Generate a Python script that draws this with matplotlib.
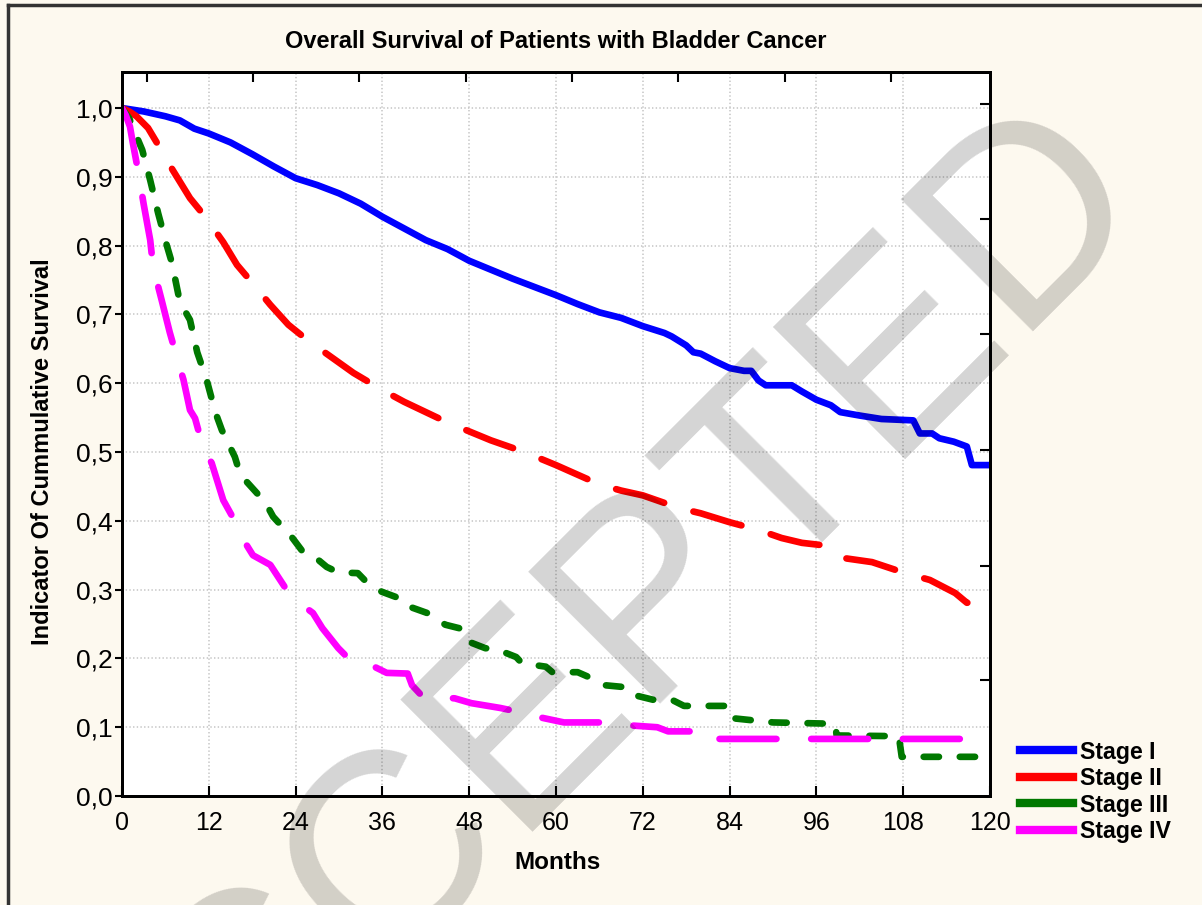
import matplotlib
matplotlib.use('Agg')
import matplotlib.pyplot as plt
from matplotlib.lines import Line2D
from matplotlib.ticker import FuncFormatter

plt.rcParams['font.family'] = ['Liberation Sans', 'DejaVu Sans']
plt.rcParams['lines.scale_dashes'] = False

# Stage I
m1 = [0, 3, 6, 8, 10, 12, 15, 18, 21, 24, 27, 30, 33, 36, 39, 42, 45, 48, 51, 54, 57, 60,
      63, 66, 69, 72, 75, 76, 78, 79, 80, 82, 84, 86, 87, 88, 89, 92.6, 94, 96, 98, 99.3,
      102, 105, 109.4, 110.3, 112, 113, 115, 116.8, 117.5, 120]
s1 = [1.0, 0.995, 0.988, 0.982, 0.97, 0.963, 0.95, 0.933, 0.915, 0.898, 0.888, 0.876, 0.861,
      0.842, 0.825, 0.808, 0.795, 0.778, 0.765, 0.752, 0.74, 0.728, 0.715, 0.703, 0.695, 0.683,
      0.673, 0.668, 0.655, 0.645, 0.643, 0.632, 0.622, 0.618, 0.618, 0.604, 0.597, 0.597, 0.588,
      0.576, 0.568, 0.558, 0.553, 0.548, 0.546, 0.527, 0.527, 0.52, 0.515, 0.508, 0.481, 0.481]

# Stage II
m2 = [0, 1, 2, 3.6, 5.25, 7, 9.4, 11.5, 14, 15.9, 18, 20.5, 23, 25.6, 28, 30, 32, 36, 39, 42,
      45, 48, 51, 54, 57, 60, 63, 66, 69, 72, 75, 78, 80, 84, 87.9, 91.2, 94, 96.5, 99.7,
      103.7, 108, 111.7, 115.2, 116.8, 120]
s2 = [1.0, 0.995, 0.988, 0.971, 0.942, 0.91, 0.869, 0.842, 0.805, 0.772, 0.746, 0.714, 0.685,
      0.663, 0.645, 0.63, 0.615, 0.59, 0.573, 0.558, 0.543, 0.53, 0.517, 0.506, 0.494, 0.481,
      0.467, 0.453, 0.444, 0.437, 0.426, 0.416, 0.411, 0.398, 0.387, 0.375, 0.368, 0.365, 0.346,
      0.34, 0.325, 0.314, 0.295, 0.281, 0.278]

# Stage III
m3 = [0, 1, 1.8, 2.8, 3.9, 5, 6.2, 6.9, 8, 9.4, 10.4, 11.7, 12.9, 13.8, 15.6, 16.3, 17.3, 19.8,
      20.9, 23.5, 25, 26.7, 28.3, 29.9, 32.6, 33.9, 35.9, 38.2, 39, 42.2, 44.7, 46.6, 47.5, 48,
      50.2, 52.1, 54.5, 55.3, 58.6, 59.5, 63, 65.4, 66.8, 69.8, 70.7, 73.4, 76, 77.7, 84, 84.5,
      90, 98.6, 98.8, 107.4, 107.8, 120]
s3 = [1.0, 0.985, 0.964, 0.939, 0.895, 0.847, 0.80, 0.775, 0.718, 0.692, 0.645, 0.605, 0.558,
      0.532, 0.493, 0.469, 0.456, 0.427, 0.406, 0.376, 0.355, 0.347, 0.333, 0.325, 0.324, 0.31,
      0.297, 0.288, 0.278, 0.266, 0.249, 0.244, 0.238, 0.224, 0.215, 0.212, 0.202, 0.193, 0.188,
      0.18, 0.18, 0.169, 0.161, 0.158, 0.147, 0.14, 0.14, 0.131, 0.131, 0.113, 0.107, 0.105,
      0.088, 0.087, 0.057, 0.057]

# Stage IV
m4 = [0, 0.5, 1.1, 1.5, 2.2, 3, 3.9, 4.3, 5.5, 6.6, 7.6, 8.5, 9.4, 10.1, 11.2, 12.4, 14, 15.9,
      16.8, 18.1, 20.5, 22.8, 24.6, 26.4, 27.7, 29.9, 31.5, 33.9, 36.6, 39.5, 40.1, 41.6, 46,
      48.3, 52.3, 55, 57.5, 61.1, 66, 68.4, 74, 75.5, 80.8, 81.3, 120]
s4 = [1.0, 0.99, 0.973, 0.949, 0.91, 0.86, 0.808, 0.769, 0.72, 0.674, 0.637, 0.605, 0.561,
      0.549, 0.507, 0.484, 0.43, 0.394, 0.372, 0.35, 0.336, 0.299, 0.28, 0.266, 0.244, 0.215,
      0.198, 0.193, 0.179, 0.178, 0.161, 0.144, 0.142, 0.135, 0.128, 0.122, 0.115, 0.107, 0.107,
      0.104, 0.1, 0.094, 0.094, 0.083, 0.083]

stages = ['Stage I', 'Stage II', 'Stage III', 'Stage IV']
colors = ['#0000ff', '#ff0000', '#007800', '#ff00ff']

x_ticks = list(range(0, 121, 12))
y_ticks = [i / 10 for i in range(11)]
top_ticks = [3.4, 18.1, 32.8, 47.5, 62.2, 76.9, 91.6, 106.3]
right_ticks = [0.168, 0.335, 0.503, 0.671, 0.838, 1.006]

fig = plt.figure(figsize=(12.02, 9.05), dpi=100, facecolor='#fdf9ef')
ax = fig.add_axes([0.1015, 0.1204, 0.7221, 0.80])
ax.set_facecolor('white')

lw = 4.8
ax.plot(m1, s1, color=colors[0], lw=lw, solid_capstyle='round', solid_joinstyle='round')
ax.plot(m2, s2, color=colors[1], lw=lw, dashes=(36, 22), dash_capstyle='round')
ax.plot(m3, s3, color=colors[2], lw=lw, dashes=(11, 15), dash_capstyle='round')
ax.plot(m4, s4, color=colors[3], lw=lw, dashes=(41, 25), dash_capstyle='round')

ax.set_xlim(0, 120)
ax.set_ylim(0, 1.0523)
ax.set_xticks(x_ticks)
ax.set_yticks(y_ticks)
ax.yaxis.set_major_formatter(FuncFormatter(lambda v, p: f'{v:.1f}'.replace('.', ',')))
ax.grid(True, color='#c4c4c4', linestyle=':', linewidth=1.1)
ax.tick_params(axis='x', direction='in', length=7, width=1.5, labelsize=18, pad=11)
ax.tick_params(axis='y', direction='out', length=5, width=1.5, labelsize=19, pad=2)
for sp in ax.spines.values():
    sp.set_linewidth(2)

# extra ticks on top and right
axt = ax.twiny()
axt.set_xlim(0, 120)
axt.set_xticks(top_ticks)
axt.tick_params(direction='in', length=7, width=1.5, labeltop=False)
axr = ax.twinx()
axr.set_ylim(0, 1.0523)
axr.set_yticks(right_ticks)
axr.tick_params(direction='in', length=7, width=1.5, labelright=False)
for a in (axt, axr):
    for sp in a.spines.values():
        sp.set_linewidth(2)

fig.text(0.4626, 1 - 41 / 905, 'Overall Survival of Patients with Bladder Cancer',
         ha='center', va='center', fontsize=17, fontweight='bold')
fig.text(557 / 1202, 1 - 862 / 905, 'Months', ha='center', va='center',
         fontsize=17.5, fontweight='bold')
fig.text(43 / 1202, 1 - 452 / 905, 'Indicator Of Cummulative Survival', ha='center',
         va='center', rotation=90, fontsize=17, fontweight='bold')

handles = [Line2D([], [], color=c, lw=6) for c in colors]
fig.legend(handles, stages, loc='lower left', bbox_to_anchor=(1020 / 1202, 1 - 843 / 905),
           frameon=False, prop={'weight': 'bold', 'size': 16.7}, handlelength=2.3,
           handletextpad=0.3, labelspacing=0.15, borderpad=0, borderaxespad=0)

# frame of the figure
fig.add_artist(Line2D([8 / 1202, 1], [1 - 5 / 905, 1 - 5 / 905], color='#333333', lw=2.5))
fig.add_artist(Line2D([8 / 1202, 8 / 1202], [0, 1 - 5 / 905], color='#333333', lw=2.5))

# watermark
fig.text(585 / 1202, 1 - 680 / 905, 'ACCEPTED', ha='center', va='center', rotation=45,
         fontsize=195, color='black', alpha=0.17, zorder=10)

fig.savefig('out.png', dpi=100, facecolor=fig.get_facecolor())
